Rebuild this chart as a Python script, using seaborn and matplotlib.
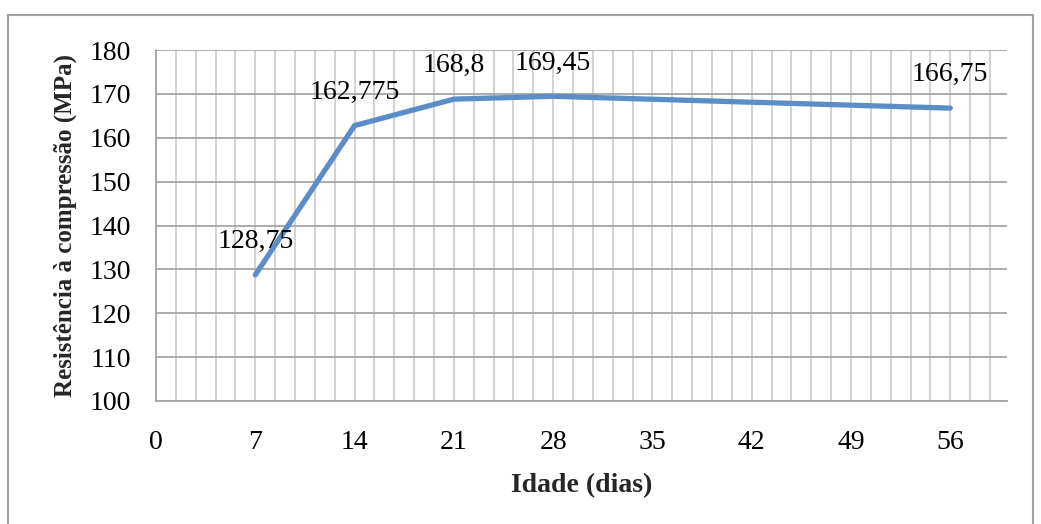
import matplotlib
matplotlib.use("Agg")
import matplotlib.pyplot as plt
from matplotlib.ticker import MultipleLocator
from matplotlib.lines import Line2D
import seaborn as sns
import pandas as pd

# Compressive strength versus curing age
idade = [7, 14, 21, 28, 56]
resistencia = [128.75, 162.775, 168.8, 169.45, 166.75]
rotulos = ["128,75", "162,775", "168,8", "169,45", "166,75"]

df = pd.DataFrame({"Idade (dias)": idade, "Resistência à compressão (MPa)": resistencia})

sns.set_style("white")
plt.rcParams["font.family"] = ["Liberation Serif", "DejaVu Serif"]

fig = plt.figure(figsize=(10.41, 5.24), dpi=100)
ax = fig.add_axes([156 / 1041, 1 - 401 / 524, (1007 - 156) / 1041, (401 - 50) / 524])

sns.lineplot(data=df, x="Idade (dias)", y="Resistência à compressão (MPa)", ax=ax,
             color="#5B8DC8", linewidth=3.8, solid_capstyle="round", zorder=3)

for x, y, txt in zip(idade, resistencia, rotulos):
    ax.annotate(txt, (x, y), xytext=(0, 24), textcoords="offset points",
                ha="center", va="center", fontsize=20, color="black", zorder=4)

ax.set_xlim(0, 60)
ax.set_ylim(100, 180)
ax.xaxis.set_major_locator(MultipleLocator(7))
ax.xaxis.set_minor_locator(MultipleLocator(1.4))
ax.yaxis.set_major_locator(MultipleLocator(10))

ax.grid(True, axis="x", which="both", color="#CFCFCF", linewidth=1.3, zorder=0)
ax.grid(True, axis="y", which="major", color="#A6A6A6", linewidth=1.3, zorder=1)
ax.set_axisbelow(True)

for side in ("top", "right"):
    ax.spines[side].set_visible(False)
ax.spines["left"].set_color("#A6A6A6")
ax.spines["bottom"].set_color("#A6A6A6")
ax.spines["left"].set_linewidth(1.3)
ax.spines["bottom"].set_linewidth(1.3)

ax.tick_params(axis="both", which="both", length=0, labelsize=20, colors="black")
ax.tick_params(axis="x", pad=21)
ax.tick_params(axis="y", pad=18)

ax.set_xlabel("Idade (dias)", fontsize=20, fontweight="bold", labelpad=13)
ax.set_ylabel("Resistência à compressão (MPa)", fontsize=18, fontweight="bold", labelpad=9)

# Chart frame
fx0, fx1 = 8 / 1041, 1033 / 1041
fy1 = 1 - 15 / 524
for xs, ys in (([fx0, fx0], [0, fy1]), ([fx0, fx1], [fy1, fy1]), ([fx1, fx1], [0, fy1])):
    fig.add_artist(Line2D(xs, ys, transform=fig.transFigure, color="#A0A0A0", linewidth=1.5))

fig.savefig("out.png", dpi=100)
